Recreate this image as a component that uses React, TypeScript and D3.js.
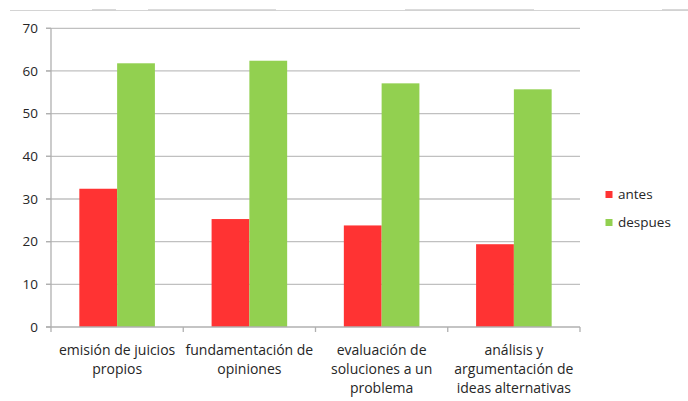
import React, { useEffect, useRef } from "react";
import * as d3 from "d3";

const categories: string[][] = [
  ["emisión de juicios", "propios"],
  ["fundamentación de", "opiniones"],
  ["evaluación de", "soluciones a un", "problema"],
  ["análisis y", "argumentación de", "ideas alternativas"],
];
const seriesNames = ["antes", "despues"];
const antes = [32.4, 25.3, 23.8, 19.4];
const despues = [61.8, 62.4, 57.1, 55.7];
const yTicks = [0, 10, 20, 30, 40, 50, 60, 70];
const colors = ["#ff3333", "#92d050"];

const W = 688;
const H = 401;
const FONT = "'Open Sans', sans-serif";

export default function App() {
  const ref = useRef<SVGSVGElement>(null);
  useEffect(() => {
    const svg = d3.select(ref.current);
    svg.selectAll("*").remove();
    const left = 51, right = 580, top = 28.3, bottom = 327;
    const x = d3.scaleBand<number>().domain(d3.range(categories.length)).range([left, right]).paddingInner(0).paddingOuter(0);
    const y = d3.scaleLinear().domain([0, 70]).range([bottom, top]);
    const bw = x.bandwidth() / 3.5;

    // top decorative line
    const g0 = svg.append("g");
    g0.append("line").attr("x1", 10).attr("x2", W).attr("y1", 10.5).attr("y2", 10.5).attr("stroke", "#d4d4d4").attr("stroke-width", 1.2);
    [[92, 116], [148, 276], [405, 534], [662, 688]].forEach(([a, b]) => {
      g0.append("line").attr("x1", a).attr("x2", b).attr("y1", 9.8).attr("y2", 9.8).attr("stroke", "#cfcfcf").attr("stroke-width", 1.2);
    });

    // gridlines
    svg.append("g").selectAll("line").data(yTicks.filter((t) => t > 0)).join("line")
      .attr("x1", left - 5).attr("x2", right).attr("y1", (d) => y(d)).attr("y2", (d) => y(d))
      .attr("stroke", "#c0c0c0").attr("stroke-width", 1.3);

    // y labels
    svg.append("g").selectAll("text").data(yTicks).join("text")
      .attr("x", 38).attr("y", (d) => y(d)).attr("dy", "0.35em").attr("text-anchor", "end")
      .attr("font-family", FONT).attr("font-size", 13.5).attr("fill", "#262626").text((d) => d);

    // bars
    const series = [antes, despues];
    series.forEach((vals, si) => {
      svg.append("g").selectAll("rect").data(vals).join("rect")
        .attr("x", (_d, i) => (x(i) as number) + bw * 0.75 + si * bw)
        .attr("width", bw)
        .attr("y", (d) => y(d))
        .attr("height", (d) => bottom - y(d))
        .attr("fill", colors[si]);
    });

    // axes
    svg.append("line").attr("x1", left).attr("x2", left).attr("y1", top).attr("y2", bottom).attr("stroke", "#b0b0b0").attr("stroke-width", 1.3);
    svg.append("g").selectAll("line").data(yTicks).join("line")
      .attr("x1", left - 5).attr("x2", left).attr("y1", (d) => y(d)).attr("y2", (d) => y(d)).attr("stroke", "#b0b0b0").attr("stroke-width", 1.3);
    svg.append("line").attr("x1", left - 5).attr("x2", right).attr("y1", bottom).attr("y2", bottom).attr("stroke", "#b0b0b0").attr("stroke-width", 1.3);
    const bounds = d3.range(categories.length + 1).map((i) => left + i * x.bandwidth());
    svg.append("g").selectAll("line").data(bounds).join("line")
      .attr("x1", (d) => d).attr("x2", (d) => d).attr("y1", bottom).attr("y2", bottom + 5).attr("stroke", "#b0b0b0").attr("stroke-width", 1.3);

    // x labels
    const xl = svg.append("g");
    categories.forEach((lines, i) => {
      const cx = (x(i) as number) + x.bandwidth() / 2;
      lines.forEach((ln, j) => {
        xl.append("text").attr("x", cx).attr("y", 355 + j * 19).attr("text-anchor", "middle")
          .attr("font-family", FONT).attr("font-size", 14).attr("fill", "#262626").text(ln);
      });
    });

    // legend
    const lg = svg.append("g");
    seriesNames.forEach((n, i) => {
      const yy = 191 + i * 28;
      lg.append("rect").attr("x", 605.5).attr("y", yy).attr("width", 7).attr("height", 7).attr("fill", colors[i]);
      lg.append("text").attr("x", 618).attr("y", yy + 3.5).attr("dy", "0.35em")
        .attr("font-family", FONT).attr("font-size", 13.5).attr("fill", "#262626").text(n);
    });
  }, []);
  return (
    <svg ref={ref} width={W} height={H} style={{ position: "absolute", left: 0, top: 0, background: "#fff" }} />
  );
}
